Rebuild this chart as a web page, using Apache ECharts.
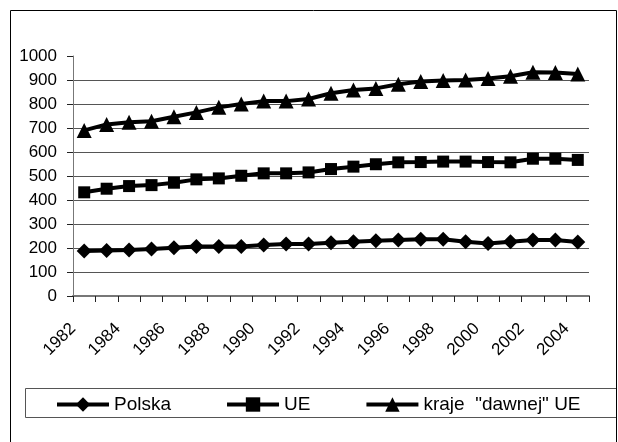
<!DOCTYPE html>
<html>
<head>
<meta charset="utf-8">
<script src="https://cdn.jsdelivr.net/npm/echarts@6/dist/echarts.min.js"></script>
<style>
html,body{margin:0;padding:0;background:#fff;}
#chart{width:618px;height:442px;}
</style>
</head>
<body>
<div id="chart"></div>
<script>
const years = ['1982','1983','1984','1985','1986','1987','1988','1989','1990','1991','1992','1993','1994','1995','1996','1997','1998','1999','2000','2001','2002','2003','2004'];
const polska = [187,190,192,196,201,206,206,206,212,217,217,222,226,230,233,236,236,226,219,226,233,233,225];
const ue = [432,447,458,462,472,486,490,501,511,511,515,529,539,549,557,558,560,560,558,557,572,572,567];
const krajeDawnejUE = [690,715,724,728,747,765,786,800,812,812,821,845,858,865,882,894,898,900,906,916,932,931,925];
const seriesNames = ['Polska','UE','kraje  "dawnej" UE'];
const yTicks = {min:0, max:1000, interval:100};

const FONT = "'Liberation Sans', Arial, sans-serif";
const chart = echarts.init(document.getElementById('chart'), null, {renderer:'canvas'});

function lineSeries(name, data, symbol, size){
  return {
    name, type:'line', data, xAxisIndex:0, yAxisIndex:0,
    symbol, symbolSize:size, showAllSymbol:true,
    lineStyle:{color:'#000', width:4},
    itemStyle:{color:'#000'},
    emphasis:{disabled:true},
    animation:false
  };
}

chart.setOption({
  animation:false,
  textStyle:{fontFamily:FONT},
  graphic:[
    {type:'rect', shape:{x:10.5, y:10.5, width:606, height:460}, style:{fill:'none', stroke:'#000', lineWidth:1}, silent:true},
    {type:'rect', shape:{x:25.5, y:388.5, width:591, height:29}, style:{fill:'#fff', stroke:'#555', lineWidth:1}, silent:true, z:-1}
  ],
  grid:{left:73, right:29, top:56, bottom:146, containLabel:false},
  legend:{
    left:50, top:390, itemWidth:52, itemHeight:18, itemGap:54,
    data:seriesNames,
    lineStyle:{width:4, color:'#000'},
    itemStyle:{color:'#000'},
    textStyle:{fontSize:19, color:'#000', fontFamily:FONT},
    selectedMode:false
  },
  xAxis:[
    {
      type:'category', data:years, boundaryGap:true,
      axisLine:{lineStyle:{color:'#777', width:2}},
      axisTick:{show:true, interval:0, length:6, alignWithLabel:false, lineStyle:{color:'#222', width:1}},
      axisLabel:{show:false},
      splitLine:{show:false}
    },
    {
      type:'category', data:years.concat(['']), boundaryGap:false, position:'bottom',
      axisLine:{show:false}, axisTick:{show:false}, splitLine:{show:false},
      axisLabel:{rotate:45, interval:1, margin:30, fontSize:17, color:'#000', fontFamily:FONT}
    }
  ],
  yAxis:{
    type:'value', min:yTicks.min, max:yTicks.max, interval:yTicks.interval,
    axisLine:{show:true, lineStyle:{color:'#777', width:1}},
    axisTick:{show:true, length:6, lineStyle:{color:'#222'}},
    axisLabel:{fontSize:17, color:'#000', margin:16, fontFamily:FONT, formatter:(v)=>String(v)},
    splitLine:{show:true, showMaxLine:false, lineStyle:{color:'#555', width:1}}
  },
  series:[
    lineSeries(seriesNames[0], polska, 'diamond', [15,15]),
    lineSeries(seriesNames[1], ue, 'rect', [12,12]),
    lineSeries(seriesNames[2], krajeDawnejUE, 'triangle', [15,15])
  ]
});
</script>
</body>
</html>
